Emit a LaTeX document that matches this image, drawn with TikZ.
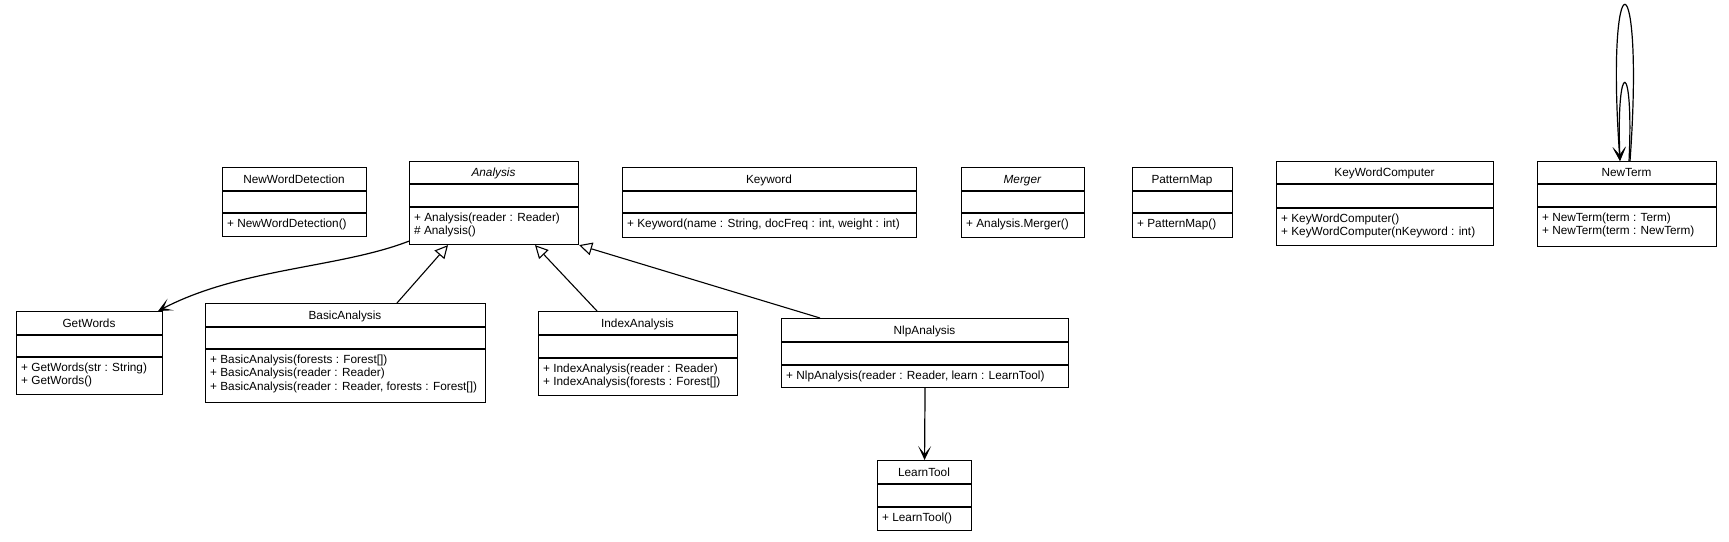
\documentclass[tikz,border=0pt]{standalone}
\usepackage{fontspec}
\setmainfont{Liberation Sans}
\usetikzlibrary{arrows.meta}
\tikzset{
  clsbox/.style={draw, line width=1.1pt, inner sep=0pt, fill=white},
  sepline/.style={line width=1.5pt},
  clstext/.style={inner sep=0pt, font=\fontsize{11.8}{13.3}\selectfont},
  assoc/.style={line width=1.2pt, -{Stealth[length=14pt,width=13pt,inset=8pt]}},
  gen/.style={line width=1.1pt, -{Triangle[open,length=13pt,width=13pt,fill=white]}}
}
\newcommand\umlclass[9]{%
  \node[clsbox, minimum width={(#3-#2)*1pt}, minimum height={(#7-#4)*1pt}, anchor=north west] (#1) at (#2,#4) {};
  \draw[sepline] (#2,#5) -- (#3,#5);
  \draw[sepline] (#2,#6) -- (#3,#6);
  \node[clstext, anchor=base] at ({(#2+#3)/2},{(#4+#5)/2+4}) {#8};
  \foreach \ln [count=\i] in {#9} {\node[clstext, anchor=base west] at (#2+5,{#6+14+(\i-1)*13.5}) {\ln};}
}
\begin{document}
\begin{tikzpicture}[x=1pt,y=-1pt]
\path[use as bounding box, fill=white] (0,0) rectangle (1729,541);
\umlclass{nwd}{222}{366}{167}{191}{213}{236}{NewWordDetection}{{+ NewWordDetection()}}
\umlclass{analysis}{409}{578}{161}{184}{207}{244}{\textit{Analysis}}{{+ Analysis(reader : Reader)},{\# Analysis()}}
\umlclass{keyword}{622}{916}{167}{191}{213}{237}{Keyword}{{+ Keyword(name : String, docFreq : int, weight : int)}}
\umlclass{merger}{961}{1084}{167}{191}{213}{237}{\textit{Merger}}{{+ Analysis.Merger()}}
\umlclass{patternmap}{1132}{1232}{167}{191}{213}{237}{PatternMap}{{+ PatternMap()}}
\umlclass{kwc}{1276}{1493}{161}{184}{208}{245}{KeyWordComputer}{{+ KeyWordComputer()},{+ KeyWordComputer(nKeyword : int)}}
\umlclass{newterm}{1537}{1716}{161}{184}{207}{246}{NewTerm}{{+ NewTerm(term : Term)},{+ NewTerm(term : NewTerm)}}
\umlclass{getwords}{16}{162}{311}{335}{357}{394}{GetWords}{{+ GetWords(str : String)},{+ GetWords()}}
\umlclass{basic}{205}{485}{303}{327}{349}{402}{BasicAnalysis}{{+ BasicAnalysis(forests : Forest[])},{+ BasicAnalysis(reader : Reader)},{+ BasicAnalysis(reader : Reader, forests : Forest[])}}
\umlclass{index}{538}{737}{311}{335}{358}{395}{IndexAnalysis}{{+ IndexAnalysis(reader : Reader)},{+ IndexAnalysis(forests : Forest[])}}
\umlclass{nlp}{781}{1068}{318}{342}{365}{387}{NlpAnalysis}{{+ NlpAnalysis(reader : Reader, learn : LearnTool)}}
\umlclass{learntool}{877}{971}{460}{484}{507}{530}{LearnTool}{{+ LearnTool()}}
% associations
\draw[assoc] ([yshift=4pt]analysis.south west) .. controls (340,268) and (240,268) .. ([xshift=-5pt]getwords.north east);
\draw[assoc] (nlp.south) -- (learntool.north);
% generalizations
\draw[gen] ([xshift=192pt]basic.north west) -- ([xshift=39pt]analysis.south west);
\draw[gen] ([xshift=59pt]index.north west) -- ([xshift=126pt]analysis.south west);
\draw[gen] ([xshift=39pt]nlp.north west) -- (analysis.south east);
% self loops
\draw[assoc] ([xshift=93pt]newterm.north west) .. controls (1645,-47) and (1605,-47) .. ([xshift=83pt]newterm.north west);
\draw[assoc] ([xshift=92pt]newterm.north west) .. controls (1634,57) and (1616,57) .. ([xshift=83pt]newterm.north west);
\end{tikzpicture}
\end{document}
